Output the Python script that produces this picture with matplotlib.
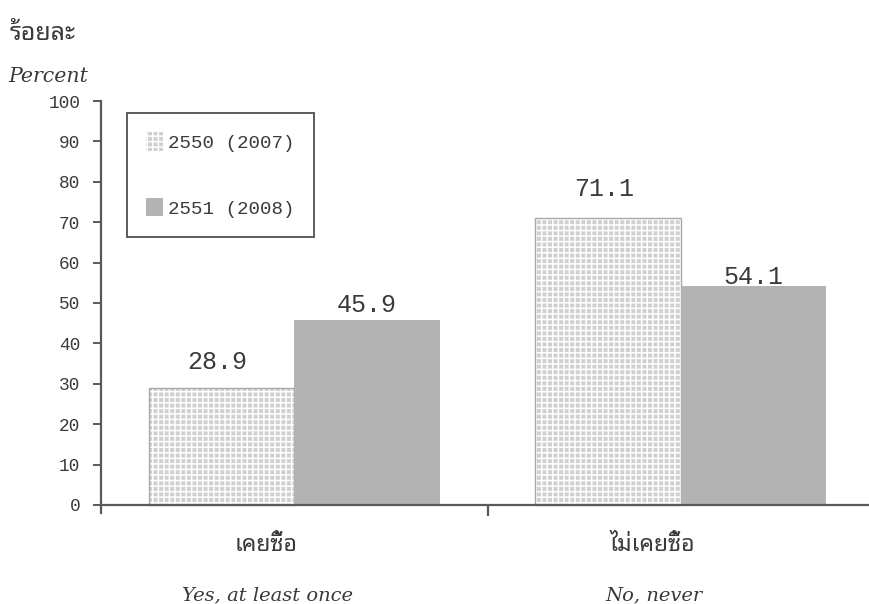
import matplotlib
matplotlib.use("Agg")
import matplotlib.pyplot as plt
import numpy as np
from matplotlib.patches import Patch

categories_th = ["เคยซื้อ", "ไม่เคยซื้อ"]
categories_en = ["Yes, at least once", "No, never"]
series_names = ["2550 (2007)", "2551 (2008)"]
y2007 = [28.9, 71.1]
y2008 = [45.9, 54.1]
yticks = list(range(0, 101, 10))

# label heights above each bar, in pixels
lift2007 = [26, 29]
lift2008 = [15, 9]

THAI = ["Noto Sans Thai Looped", "DejaVu Sans"]
NUM = "Liberation Mono"
TXT = "#3a3a3a"
AXC = "#5a5a5a"
plt.rcParams["hatch.linewidth"] = 1.1

fig = plt.figure(figsize=(8.69, 6.04), dpi=100)
W, H = 869, 604
ax = fig.add_axes([101 / W, 1 - 513 / H, 773 / W, 412 / H])

x = np.arange(len(categories_th))
bw = 0.376
x07 = x - bw / 2
x08 = x + bw / 2

ax.bar(x07, y2007, bw, color="#d0d0d0", edgecolor="white", hatch="+++", linewidth=0)
ax.bar(x07, y2007, bw, fill=False, edgecolor="#a8a8a8", linewidth=1.0)
ax.bar(x08, y2008, bw, color="#b3b3b3", linewidth=0)

for xi, v, d in zip(x07, y2007, lift2007):
    ax.annotate(f"{v:.1f}", (xi, v), xytext=(-3, d * 0.72), textcoords="offset points",
                ha="center", va="center", fontsize=18, family=NUM, color=TXT)
for xi, v, d in zip(x08, y2008, lift2008):
    ax.annotate(f"{v:.1f}", (xi, v), xytext=(0, d * 0.72), textcoords="offset points",
                ha="center", va="center", fontsize=18, family=NUM, color=TXT)

ax.set_xlim(-0.5, 1.5)
ax.set_ylim(-2, 100)
for s in ["top", "right"]:
    ax.spines[s].set_visible(False)
ax.spines["bottom"].set_position(("data", 0))
ax.spines["left"].set_bounds(-2, 100)
for s in ["left", "bottom"]:
    ax.spines[s].set_color(AXC)
    ax.spines[s].set_linewidth(1.6)

ax.set_yticks(yticks)
ax.set_yticklabels([str(t) for t in yticks], family=NUM, fontsize=12.8, color=TXT)
ax.tick_params(axis="y", direction="out", length=6, width=1.4, color=AXC, pad=9)
ax.set_xticks([0.5])
ax.set_xticklabels([""])
ax.tick_params(axis="x", direction="out", length=8, width=1.6, color=AXC)

# two-line category labels
for i, (th, en) in enumerate(zip(categories_th, categories_en)):
    ax.text(i - 0.073, -10, th, ha="center", va="center", fontsize=16.5,
            family=THAI, color=TXT)
    ax.text(i - 0.07, -22.3, en, ha="center", va="center", fontsize=14,
            family="DejaVu Serif", style="italic", color=TXT)

fig.text(10 / W, 1 - 33 / H, "ร้อยละ", ha="left", va="center", fontsize=18,
         family=THAI, color=TXT)
fig.text(8 / W, 1 - 77 / H, "Percent", ha="left", va="center", fontsize=14.8,
         family="DejaVu Serif", style="italic", color=TXT)

handles = [Patch(facecolor="#d0d0d0", edgecolor="white", hatch="+++", linewidth=0),
           Patch(facecolor="#b3b3b3", linewidth=0)]
leg = fig.legend(handles, series_names, loc="upper left",
                 bbox_to_anchor=(127 / W, 1 - 113 / H), bbox_transform=fig.transFigure,
                 prop={"family": NUM, "size": 13.8}, labelcolor=TXT,
                 handlelength=0.9, handleheight=1.1, handletextpad=0.25,
                 labelspacing=2.4, borderpad=1.0, borderaxespad=0, fancybox=False)
leg.get_frame().set_edgecolor("#333333")
leg.get_frame().set_linewidth(1.4)

fig.savefig("out.png", dpi=100)
